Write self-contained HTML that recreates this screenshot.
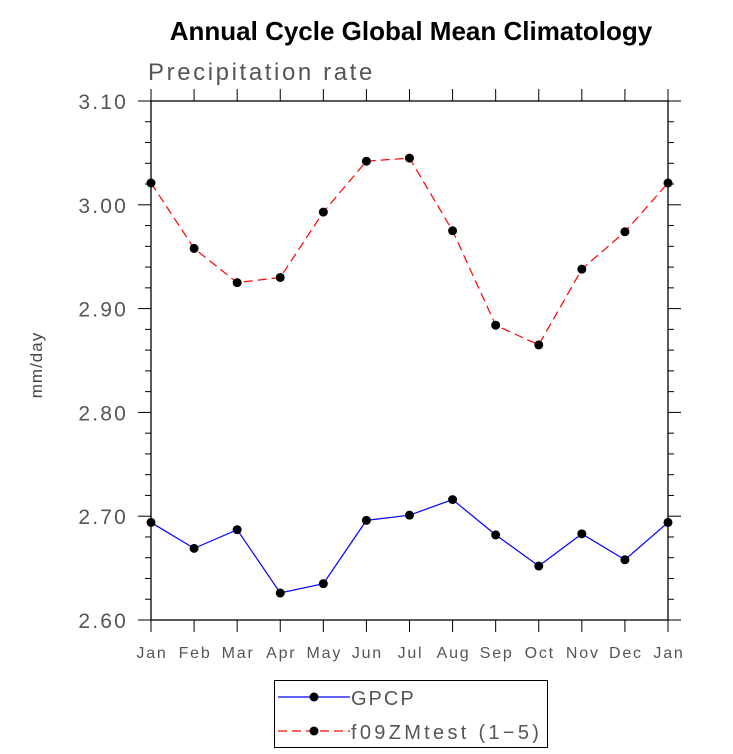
<!DOCTYPE html>
<html><head><meta charset="utf-8"><style>
body{margin:0;background:#fff}
svg{display:block;font-family:"Liberation Sans",sans-serif}
</style></head><body>
<svg id="c" width="733" height="754" viewBox="0 0 733 754">
<text x="411" y="40" text-anchor="middle" font-size="26" font-weight="bold" fill="#000">Annual Cycle Global Mean Climatology</text>
<text x="148" y="80" font-size="24" fill="#555" letter-spacing="2.6">Precipitation rate</text>
<text x="0" y="0" transform="translate(42,365) rotate(-90)" text-anchor="middle" font-size="17" fill="#444" letter-spacing="1">mm/day</text>
<g id="ax"></g>
<g id="series"></g>
<g>
<rect x="274.5" y="680.5" width="273" height="67" fill="#fff" stroke="#000" stroke-width="1"/>
<line x1="278" y1="697" x2="350" y2="697" stroke="#00f" stroke-width="1.2"/>
<circle cx="314" cy="697" r="4.5" fill="#000"/>
<text x="351" y="705" font-size="20" fill="#555" letter-spacing="2">GPCP</text>
<line x1="278" y1="731" x2="350" y2="731" stroke="#f00" stroke-width="1.2" stroke-dasharray="9,5"/>
<circle cx="314" cy="731" r="4.5" fill="#000"/>
<text x="351" y="739" font-size="20" fill="#555" letter-spacing="3.3">f09ZMtest (1−5)</text>
</g>
</svg>
<script>
const months=["Jan","Feb","Mar","Apr","May","Jun","Jul","Aug","Sep","Oct","Nov","Dec","Jan"];
const gpcp=[2.694,2.669,2.687,2.626,2.635,2.696,2.701,2.716,2.682,2.652,2.683,2.658,2.694];
const model=[3.021,2.958,2.925,2.930,2.993,3.042,3.045,2.975,2.884,2.865,2.938,2.974,3.021];
const yTicks=[2.60,2.70,2.80,2.90,3.00,3.10];
const yTickLabels=["2.60","2.70","2.80","2.90","3.00","3.10"];
const X0=151,X1=668,Y0=620,Y1=101,YMIN=2.6,YMAX=3.1;
const NS="http://www.w3.org/2000/svg";
function xs(i){return X0+(X1-X0)*i/(months.length-1);}
function ys(v){return Y0-(v-YMIN)/(YMAX-YMIN)*(Y0-Y1);}
function mk(tag,a,p){const e=document.createElementNS(NS,tag);for(const k in a)e.setAttribute(k,a[k]);p.appendChild(e);return e;}
const ax=document.getElementById('ax');
const frame=mk('rect',{x:X0,y:Y1,width:X1-X0,height:Y0-Y1,fill:'none',stroke:'#000','stroke-width':1.3},ax);


months.forEach((m,i)=>{
  const x=xs(i);
  mk('line',{x1:x,y1:Y0,x2:x,y2:Y0+12,stroke:'#000'},ax);
  mk('line',{x1:x,y1:Y1,x2:x,y2:Y1-12,stroke:'#000'},ax);
  const t=mk('text',{x:x+1,y:Y0+38,'text-anchor':'middle','font-size':16,fill:'#555','letter-spacing':'1.8'},ax);
  t.textContent=m;
  
  
});
for(let v=YMIN;v<=YMAX+1e-9;v+=0.02){
  const y=ys(v);const major=Math.abs(Math.round(v*10)-v*10)<1e-6;
  const L=major?13:6;
  mk('line',{x1:X0-L,y1:y,x2:X0,y2:y,stroke:'#000'},ax);
  mk('line',{x1:X1,y1:y,x2:X1+L,y2:y,stroke:'#000'},ax);
}
yTicks.forEach((v,i)=>{
  const t=mk('text',{x:128,y:ys(v)+8,'text-anchor':'end','font-size':21,fill:'#555','letter-spacing':'2.2'},ax);
  t.textContent=yTickLabels[i];
  
  
});
const sg=document.getElementById('series');
function draw(vals,color,dash,name){
  const pts=vals.map((v,i)=>xs(i)+','+ys(v)).join(' ');
  const pl=mk('polyline',{points:pts,fill:'none',stroke:color,'stroke-width':1.2},sg);
  if(dash)pl.setAttribute('stroke-dasharray',dash);
  
  
  vals.forEach((v,i)=>{
    const c=mk('circle',{cx:xs(i),cy:ys(v),r:4.5,fill:'#000'},sg);
    
    
  });
}
draw(gpcp,'#00f',null,'gpcp');
draw(model,'#f00','9,5','model');
</script>
</body></html>
